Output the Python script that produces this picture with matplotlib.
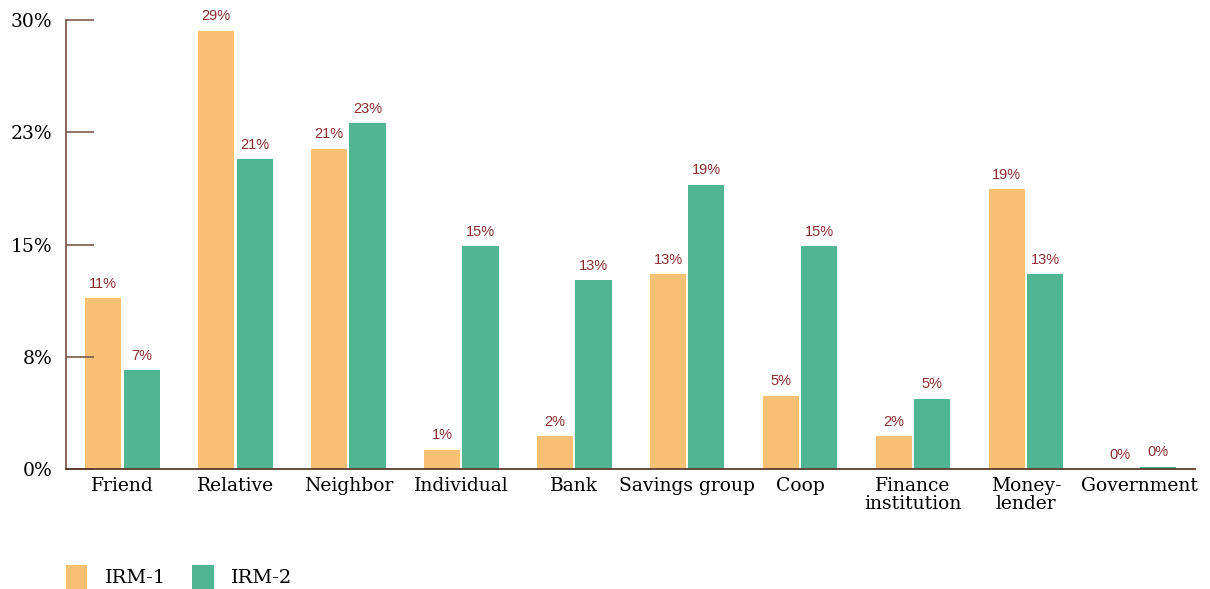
import matplotlib.pyplot as plt
import numpy as np

categories = ["Friend", "Relative", "Neighbor", "Individual", "Bank",
              "Savings group", "Coop", "Finance\ninstitution", "Money-\nlender", "Government"]
irm1 = [11.4, 29.3, 21.4, 1.3, 2.2, 13.0, 4.9, 2.2, 18.7, 0.0]
irm2 = [6.6, 20.7, 23.1, 14.9, 12.6, 19.0, 14.9, 4.7, 13.0, 0.15]
series_names = ["IRM-1", "IRM-2"]
ytick_vals = [0, 7.5, 15, 22.5, 30]
ytick_labels = ["0%", "8%", "15%", "23%", "30%"]

ORANGE = "#f8c074"
GREEN = "#51b594"
LABEL_RED = "#8b2d2f"
AXIS_BROWN = "#7b5a4c"

fig = plt.figure(figsize=(12.1, 5.89), dpi=100)
ax = fig.add_axes([0.0545, 0.2037, 0.9335, 0.7623])

x = np.arange(len(categories))
w = 0.32
off = 0.17
b1 = ax.bar(x - off, irm1, width=w, color=ORANGE, label=series_names[0])
b2 = ax.bar(x + off, irm2, width=w, color=GREEN, label=series_names[1])

# value labels above each bar
for bars, vals in ((b1, irm1), (b2, irm2)):
    for rect, v in zip(bars, vals):
        ax.text(rect.get_x() + rect.get_width() / 2, v + 0.5, f"{v:.0f}%",
                ha="center", va="bottom", fontsize=10.5, color=LABEL_RED,
                family="Liberation Sans")

ax.set_xlim(-0.5, 9.5)
ax.set_ylim(0, 30)
ax.set_yticks(ytick_vals)
ax.set_yticklabels(ytick_labels, fontsize=13.5, family="DejaVu Serif")
ax.set_xticks(x)
ax.set_xticklabels(categories, fontsize=13.5, family="DejaVu Serif", linespacing=0.95)
ax.tick_params(axis="y", direction="in", length=20, width=1.2, color=AXIS_BROWN, pad=10)
ax.tick_params(axis="x", length=0, pad=6)

for s in ("top", "right"):
    ax.spines[s].set_visible(False)
ax.spines["left"].set_color(AXIS_BROWN)
ax.spines["left"].set_linewidth(1.3)
ax.spines["bottom"].set_color("#5a3a2e")
ax.spines["bottom"].set_linewidth(1.3)

fig.legend(handles=[b1, b2], labels=series_names, loc="lower left",
           bbox_to_anchor=(0.04, -0.029), ncol=2, frameon=False,
           prop={"family": "DejaVu Serif", "size": 14},
           handlelength=1.1, handleheight=1.45, columnspacing=1.35, handletextpad=0.9)

fig.savefig("out.png", dpi=100)
